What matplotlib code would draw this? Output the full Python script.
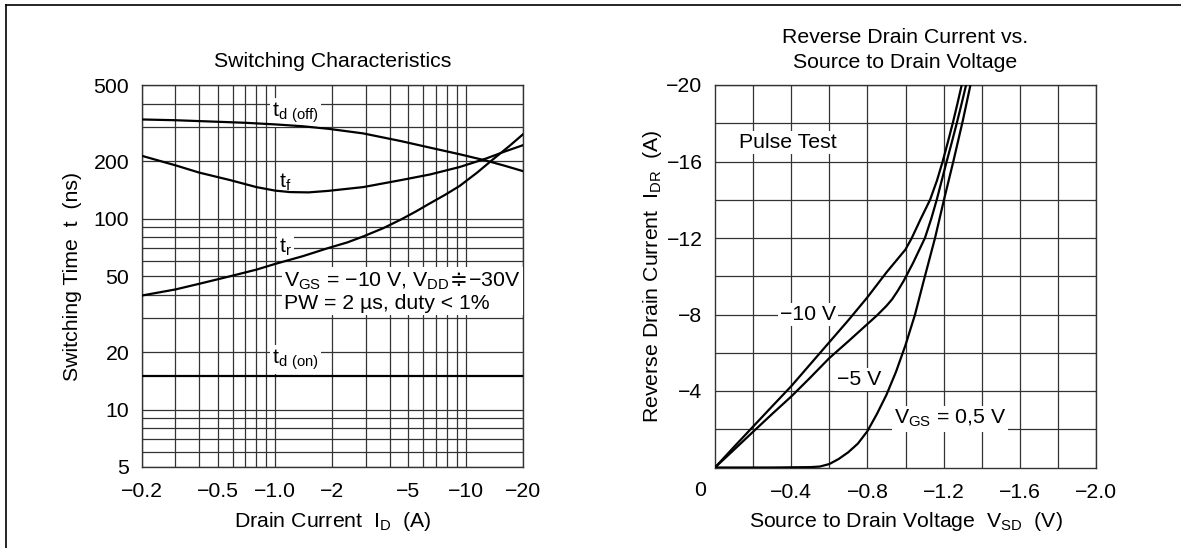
import matplotlib
matplotlib.use("Agg")
import matplotlib.pyplot as plt
from matplotlib.lines import Line2D
from matplotlib.ticker import FixedLocator, NullFormatter

plt.rcParams['font.family'] = ['Liberation Sans', 'DejaVu Sans']
plt.rcParams['mathtext.fontset'] = 'custom'
plt.rcParams['mathtext.rm'] = 'Liberation Sans'
plt.rcParams['mathtext.sf'] = 'DejaVu Sans'
plt.rcParams['font.size'] = 15.3

# --- left chart: switching characteristics ---
id_toff = [0.2, 0.3, 0.5, 0.7, 1.0, 1.4, 1.9, 2.9, 4.6, 6.5, 9.3, 12.8, 16, 20]
td_off = [330, 327, 321, 317, 311, 304, 295, 279, 254, 235, 217, 201, 189, 177]

id_tf = [0.2, 0.25, 0.3, 0.4, 0.58, 0.8, 1.0, 1.2, 1.5, 1.9, 2.9, 4.6, 6.5, 9.3, 12.8, 16, 20]
t_fall = [213, 200, 190, 174, 159, 146, 140, 137.5, 137, 139.5, 146, 159, 170, 186, 206, 224, 242]

id_tr = [0.2, 0.3, 0.4, 0.58, 0.8, 1.0, 1.4, 1.9, 2.4, 2.9, 3.7, 4.6, 5.5, 6.4, 7.8, 9.3, 11.5, 14, 17, 20]
t_rise = [39.5, 42.5, 45.5, 49.8, 54, 57.8, 63.5, 70, 75, 80.5, 89, 99, 109, 119, 133, 148, 174, 205, 240, 276]

id_ton = [0.2, 20]
td_on = [15, 15]

x_ticks_left = [0.2, 0.5, 1.0, 2, 5, 10, 20]
x_labels_left = ['−0.2', '−0.5', '−1.0', '−2', '−5', '−10', '−20']
y_ticks_left = [5, 10, 20, 50, 100, 200, 500]

# --- right chart: reverse drain current vs source-drain voltage ---
v_10 = [0, -0.1, -0.2, -0.3, -0.4, -0.5, -0.6, -0.7, -0.8, -0.9, -0.95, -1.0, -1.033,
        -1.08, -1.129, -1.165, -1.195, -1.222, -1.248, -1.272, -1.295]
i_10 = [0, -1.08, -2.14, -3.2, -4.25, -5.4, -6.55, -7.7, -8.9, -10.2, -10.8, -11.4, -12.0,
        -13.0, -14.0, -15.0, -16.0, -17.0, -18.0, -19.0, -20.0]
v_5 = [0, -0.1, -0.2, -0.3, -0.4, -0.5, -0.6, -0.7, -0.8, -0.85, -0.9, -0.93, -0.96, -0.99,
       -1.04, -1.102, -1.135, -1.164, -1.19, -1.216, -1.243, -1.269, -1.294, -1.318]
i_5 = [0, -0.93, -1.87, -2.8, -3.71, -4.7, -5.72, -6.6, -7.5, -7.95, -8.45, -8.8, -9.25, -9.75,
       -10.7, -12.0, -13.0, -14.0, -15.0, -16.0, -17.0, -18.0, -19.0, -20.0]
v_05 = [0, -0.3, -0.5, -0.55, -0.6, -0.65, -0.7, -0.75, -0.8, -0.85, -0.9, -0.95,
        -1.0, -1.05, -1.094, -1.155, -1.202, -1.251, -1.30, -1.341]
i_05 = [0, 0, -0.02, -0.05, -0.18, -0.45, -0.8, -1.25, -1.9, -2.8, -3.8, -5.0,
        -6.4, -8.0, -9.7, -12.0, -14.0, -16.0, -18.1, -20.0]

x_ticks_right = [-0.4, -0.8, -1.2, -1.6, -2.0]
x_labels_right = ['−0.4', '−0.8', '−1.2', '−1.6', '−2.0']
y_ticks_right = [-4, -8, -12, -16, -20]
y_labels_right = ['−4', '−8', '−12', '−16', '−20']

W, H = 1181, 548
fig = plt.figure(figsize=(W / 100, H / 100), dpi=100)

grid_kw = dict(color='#333333', linewidth=0.9)
box = dict(facecolor='white', edgecolor='none', pad=1.5)
lw = 1.6

# ---------------- left ----------------
ax1 = fig.add_axes([141.7 / W, (H - 467) / H, 381.3 / W, 382 / H])
ax1.set_xscale('log')
ax1.set_yscale('log')
ax1.set_xlim(0.2, 20)
ax1.set_ylim(5, 500)

ax1.plot(id_toff, td_off, color='black', lw=lw, zorder=4)
ax1.plot(id_tf, t_fall, color='black', lw=lw, zorder=4)
ax1.plot(id_tr, t_rise, color='black', lw=lw, zorder=4)
ax1.plot(id_ton, td_on, color='black', lw=lw, zorder=4)

ax1.xaxis.set_major_locator(FixedLocator(x_ticks_left))
ax1.set_xticklabels(x_labels_left)
ax1.xaxis.set_minor_locator(FixedLocator([0.3, 0.4, 0.6, 0.7, 0.8, 0.9, 3, 4, 6, 7, 8, 9]))
ax1.xaxis.set_minor_formatter(NullFormatter())
ax1.yaxis.set_major_locator(FixedLocator(y_ticks_left))
ax1.set_yticklabels([str(v) for v in y_ticks_left])
ax1.yaxis.set_minor_locator(FixedLocator([6, 7, 8, 9, 30, 40, 60, 70, 80, 90, 300, 400]))
ax1.yaxis.set_minor_formatter(NullFormatter())
ax1.set_axisbelow(True)
ax1.grid(True, which='both', **grid_kw)
ax1.tick_params(which='both', length=0)
ax1.tick_params(axis='x', pad=11)
ax1.tick_params(axis='y', pad=9)

ax1.text(0.97, 358, r'$\mathregular{t_{d\ (off)}}$', ha='left', va='center', bbox=box, zorder=3)
ax1.text(1.05, 155, r'$\mathregular{t_f}$', ha='left', va='center', bbox=box, zorder=3)
ax1.text(1.05, 71, r'$\mathregular{t_r}$', ha='left', va='center', bbox=box, zorder=3)
ax1.text(0.97, 18.2, r'$\mathregular{t_{d\ (on)}}$', ha='left', va='center', bbox=box, zorder=3)
ax1.text(1.12, 41.2,
         r'$\mathregular{V_{GS}}$ = −10 V, $\mathregular{V_{DD}}\!\mathsf{\doteqdot}\!$−30V'
         + '\n' + 'PW = 2 µs, duty < 1%',
         ha='left', va='center', linespacing=1.15, bbox=box, zorder=3)

ax1.set_title('Switching Characteristics', fontsize=15.3, pad=13)
ax1.set_xlabel(r'Drain Current  $\mathregular{I_D}$  (A)', labelpad=6)
ax1.set_ylabel('Switching Time  t  (ns)', labelpad=8)

# ---------------- right ----------------
ax2 = fig.add_axes([715 / W, (H - 467.5) / H, 381 / W, 382.5 / H])
ax2.set_xlim(0, -2.0)
ax2.set_ylim(0, -20)

ax2.plot(v_10, i_10, color='black', lw=lw, zorder=4)
ax2.plot(v_5, i_5, color='black', lw=lw, zorder=4)
ax2.plot(v_05, i_05, color='black', lw=lw, zorder=4)

ax2.xaxis.set_major_locator(FixedLocator(x_ticks_right))
ax2.set_xticklabels(x_labels_right)
ax2.xaxis.set_minor_locator(FixedLocator([-0.2, -0.6, -1.0, -1.4, -1.8]))
ax2.yaxis.set_major_locator(FixedLocator(y_ticks_right))
ax2.set_yticklabels(y_labels_right)
ax2.yaxis.set_minor_locator(FixedLocator([-2, -6, -10, -14, -18]))
ax2.set_axisbelow(True)
ax2.grid(True, which='both', **grid_kw)
ax2.tick_params(which='both', length=0)
ax2.tick_params(axis='x', pad=11)
ax2.tick_params(axis='y', pad=9)

ax2.text(-0.126, -17.0, 'Pulse Test', ha='left', va='center', bbox=box, zorder=3)
ax2.text(-0.49, -8.0, '−10 V', ha='center', va='center', bbox=box, zorder=3)
ax2.text(-0.755, -4.6, '−5 V', ha='center', va='center', bbox=box, zorder=3)
ax2.text(-1.234, -2.55, r'$\mathregular{V_{GS}}$ = 0,5 V', ha='center', va='center',
         bbox=box, zorder=3)

ax2.set_title('Reverse Drain Current vs.\nSource to Drain Voltage', fontsize=15.3,
              pad=12, linespacing=1.45)
ax2.set_xlabel(r'Source to Drain Voltage  $\mathregular{V_{SD}}$  (V)', labelpad=6)
ax2.set_ylabel(r'Reverse Drain Current  $\mathregular{I_{DR}}$  (A)', labelpad=1.5)
fig.text(700 / W, 1 - 491 / H, '0', ha='center', va='center', fontsize=15.3)

for ax in (ax1, ax2):
    for s in ax.spines.values():
        s.set_color('#333333')
        s.set_linewidth(1.0)

# frame lines (left and top only)
fig.add_artist(Line2D([5.5 / W, 5.5 / W], [0, 1 - 4.7 / H], color='black', lw=1.2))
fig.add_artist(Line2D([5.5 / W, 1], [1 - 4.7 / H, 1 - 4.7 / H], color='black', lw=1.2))

fig.savefig('out.png', dpi=100)
